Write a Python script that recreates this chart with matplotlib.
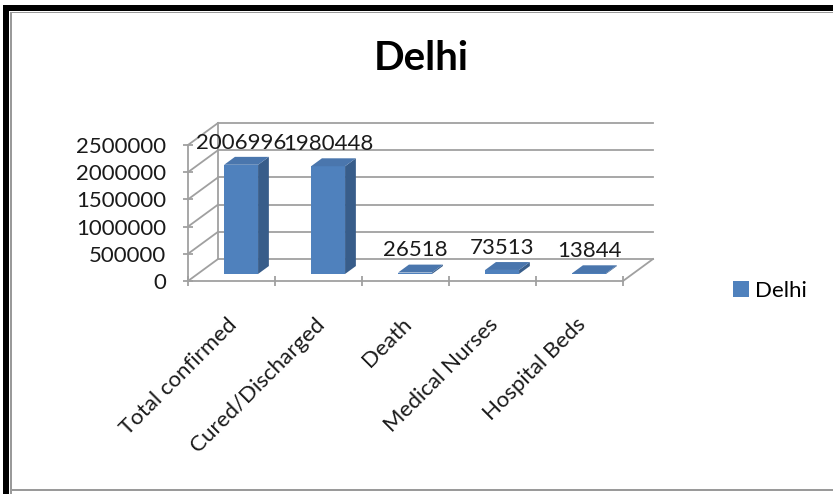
import matplotlib
matplotlib.use("Agg")
import matplotlib.pyplot as plt
from matplotlib.patches import Polygon, Rectangle

plt.rcParams['font.family'] = ['Lato', 'DejaVu Sans']

categories = ['Total confirmed', 'Cured/Discharged', 'Death', 'Medical Nurses', 'Hospital Beds']
values = [2006996, 1980448, 26518, 73513, 13844]
yticks = [0, 500000, 1000000, 1500000, 2000000, 2500000]
series = 'Delhi'

W, H = 833, 494
fig = plt.figure(figsize=(W / 100, H / 100), dpi=100)

def px(x, y):
    return x / W, 1 - y / H

# frame of the screenshot
def box(x0, y0, x1, y1, color):
    fig.add_artist(Rectangle((x0 / W, 1 - y1 / H), (x1 - x0) / W, (y1 - y0) / H,
                             transform=fig.transFigure, color=color, lw=0))

box(3, 5, 9, 494, 'black')
box(3, 5, 833, 11, 'black')
box(10, 12, 12, 494, '#9a9a9a')
box(10, 12, 833, 13, '#9a9a9a')
box(10, 489, 833, 491, '#9a9a9a')

fs = 16
txt = '#1a1a1a'

# depth of the pseudo 3d box, in data units
dx, dy = 0.345, 404000
n = len(categories)
ax = fig.add_axes([188 / W, 1 - 281 / H, 465 / W, 158 / H])
ax.set_xlim(0, n + dx)
ax.set_ylim(0, yticks[-1] + dy)
ax.patch.set_alpha(0)
for s in ['top', 'right']:
    ax.spines[s].set_visible(False)
grid = '#a0a0a0'
ax.spines['left'].set_bounds(0, yticks[-1])
ax.spines['bottom'].set_bounds(0, n)
ax.spines['left'].set_color(grid)
ax.spines['bottom'].set_color(grid)
ax.spines['left'].set_linewidth(1.3)
ax.spines['bottom'].set_linewidth(1.3)

ax.set_yticks(yticks)
ax.set_yticklabels([str(v) for v in yticks], fontsize=fs, color=txt)
ax.set_xticks(range(n + 1))
ax.set_xticklabels([])
ax.set_xticks([i + 0.45 for i in range(n)], minor=True)
ax.set_xticklabels(categories, minor=True, fontsize=fs, rotation=45,
                   ha='right', va='top', rotation_mode='anchor', color=txt)
ax.tick_params(axis='both', which='major', direction='inout', length=7, color=grid, width=1.3)
ax.tick_params(axis='y', pad=12)
ax.tick_params(axis='x', which='minor', length=0, pad=24)

# walls and floor
for v in yticks:
    ax.plot([0, dx], [v, v + dy], color=grid, lw=1.3, clip_on=False)
    ax.plot([dx, n + dx], [v + dy, v + dy], color=grid, lw=1.3, clip_on=False)
ax.plot([dx, dx], [dy, yticks[-1] + dy], color=grid, lw=1.3, clip_on=False)
ax.plot([n, n + dx], [0, dy], color=grid, lw=1.3, clip_on=False)

# bars
f0, d, bw = 0.32, 0.36, 0.39
front, side, top = '#4f81bd', '#385d8a', '#4a76ad'
xs = [i + 0.5 + f0 * dx for i in range(n)]
base = f0 * dy
bars = ax.bar(xs, values, bw, bottom=base, color=front, zorder=3, label=series)
for x, v in zip(xs, values):
    xl, xr, t = x - bw / 2, x + bw / 2, base + v
    ax.add_patch(Polygon([(xr, base), (xr + d * dx, base + d * dy),
                          (xr + d * dx, t + d * dy), (xr, t)],
                         closed=True, facecolor=side, edgecolor='none', zorder=3))
    ax.add_patch(Polygon([(xl, t), (xr, t), (xr + d * dx, t + d * dy), (xl + d * dx, t + d * dy)],
                         closed=True, facecolor=top, edgecolor='none', zorder=3))
    ax.annotate(str(v), (x, t + d * dy), xytext=(0, 3), textcoords='offset points',
                ha='center', va='bottom', fontsize=fs, color=txt, zorder=4)

fig.text(421 / W, 1 - 58 / H, 'Delhi', ha='center', va='center', fontsize=29, fontweight='bold')
fig.legend(handles=[bars], labels=[series], loc='center left', bbox_to_anchor=px(713, 291),
           frameon=False, fontsize=fs, handlelength=0.7, handleheight=0.7, handletextpad=0.3)

fig.savefig('out.png', dpi=100)
